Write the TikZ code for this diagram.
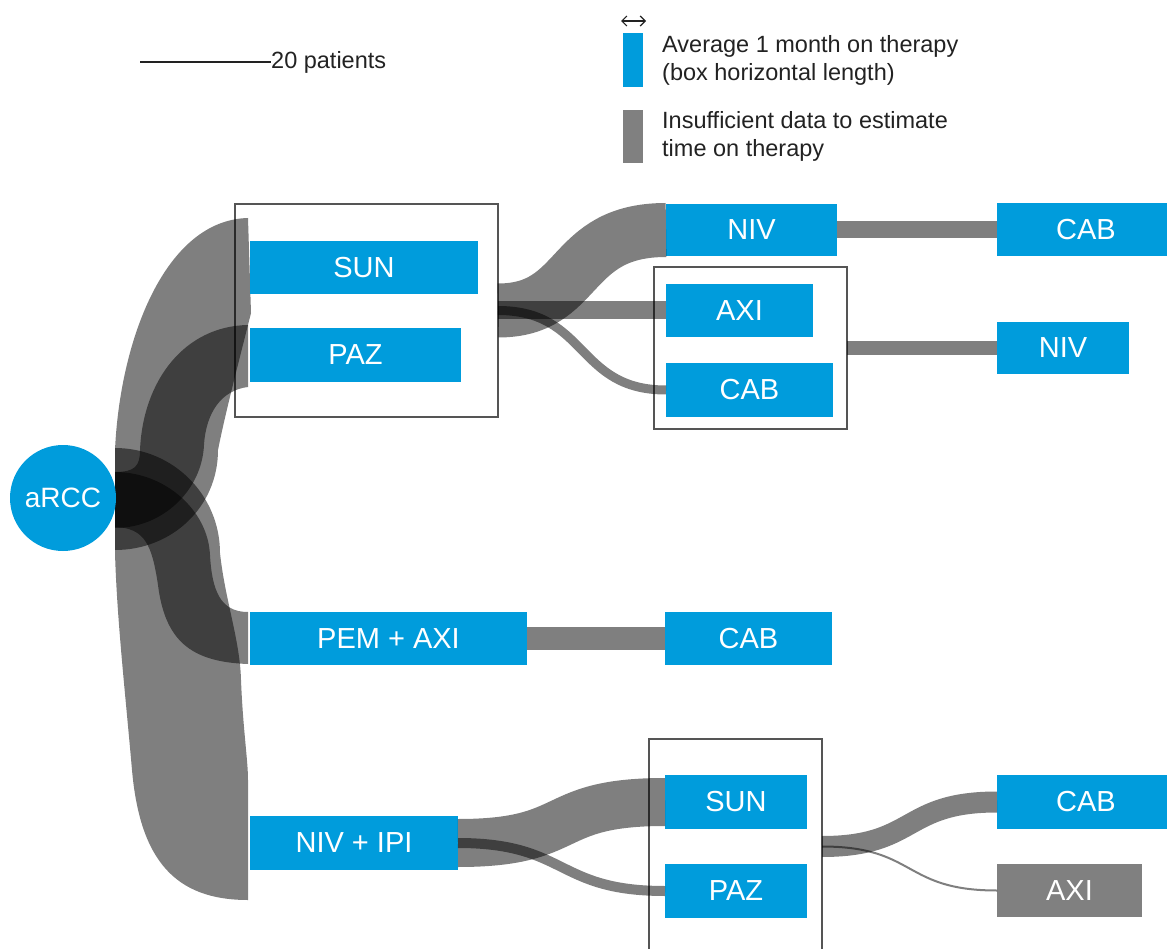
\documentclass[tikz,border=0pt]{standalone}
\usepackage{fontspec}
\setmainfont{Liberation Sans}
\usepackage{tikz}
\usetikzlibrary{arrows.meta,calc,positioning}
\definecolor{drug}{HTML}{009CDC}
\definecolor{nodata}{HTML}{808080}
\definecolor{ink}{HTML}{222222}
\definecolor{frame}{HTML}{555555}

\begin{document}
\begin{tikzpicture}[x=1pt,y=-1pt,
  drugbox/.style={fill=drug,text=white,inner sep=0pt,outer sep=0pt,minimum height=53pt,font=\fontsize{29}{34}\selectfont},
  nodatabox/.style={drugbox,fill=nodata},
  grpframe/.style={draw=frame,line width=1.5pt,inner sep=0pt,outer sep=0pt},
  ribbon/.style={fill=black,fill opacity=0.5},
  flow/.style={draw=black,draw opacity=0.5},
  legendtext/.style={text=ink,inner sep=0pt,align=left,font=\fontsize{23.5}{28}\selectfont}]
\useasboundingbox (0,0) rectangle (1167,949);
\clip (0,0) rectangle (1167,949);

% legend
\coordinate (bar0) at (140,62);
\node[legendtext,anchor=west] (barlabel) at (271,62) {20 patients};
\draw[ink,line width=1.6pt] (bar0) -- (barlabel.west);
\coordinate (arrl) at (621,21); \coordinate (arrr) at (646,21);
\draw[ink,line width=1.2pt,{Straight Barb[length=5pt]}-{Straight Barb[length=5pt]}] (arrl) -- (arrr);
\node[drugbox,minimum width=20pt,minimum height=54pt] (legdrug) at (633,60) {};
\node[nodatabox,minimum width=20pt,minimum height=53pt] (legnodata) at (633,136.5) {};
\node[legendtext,anchor=west] (legdrugtxt) at (662,60) {Average 1 month on therapy\\(box horizontal length)};
\node[legendtext,anchor=west] (legnodatatxt) at (662,136) {Insufficient data to estimate\\time on therapy};

% group frames
\node[grpframe,minimum width=263pt,minimum height=213pt] (grp1) at (366.5,310.5) {};
\node[grpframe,minimum width=193pt,minimum height=162pt] (grp2) at (750.5,348) {};
\node[grpframe,minimum width=173pt,minimum height=215pt] (grp3) at (735.5,846.5) {};

% ribbons out of aRCC
\fill[ribbon] (115,450) .. controls (120,340) and (165,220) .. (248,218) -- (251,313)
  .. controls (238,365) and (226,410) .. (218,450) .. controls (218,507) and (172,550) .. (115,550) -- cycle;
\fill[ribbon] (115,472) .. controls (135,472) and (140,466) .. (140,450) .. controls (143,380) and (185,326) .. (248,325) -- (248,387)
  .. controls (222,390) and (206,412) .. (204,445) .. controls (202,490) and (163,528) .. (115,528) -- cycle;
\fill[ribbon] (115,472) .. controls (165,472) and (208,510) .. (210,555) .. controls (212,590) and (220,612) .. (248,612) -- (248,664)
  .. controls (190,662) and (165,640) .. (158,585) .. controls (152,545) and (145,528) .. (115,527) -- cycle;
\fill[ribbon] (115,448) .. controls (173,448) and (220,495) .. (220,553) .. controls (225,600) and (240,640) .. (241,680)
  .. controls (243,730) and (248,760) .. (248,780) -- (248,900) .. controls (175,900) and (140,860) .. (132,770)
  .. controls (125,690) and (117,620) .. (115,553) -- cycle;

% therapy boxes
\node[drugbox,circle,minimum size=106pt,font=\fontsize{28}{34}\selectfont] (arcc) at (63,498) {aRCC};
\node[drugbox,minimum width=228pt] (sun1) at (364,267.5) {SUN};
\node[drugbox,minimum width=211pt,minimum height=54pt] (paz1) at (355.5,355) {PAZ};
\node[drugbox,minimum width=277pt] (pem) at (388.5,638.5) {PEM + AXI};
\node[drugbox,minimum width=208pt,minimum height=54pt] (nivipi) at (354,843) {NIV + IPI};
\node[drugbox,minimum width=171pt,minimum height=52pt] (niv2) at (751.5,230) {NIV};
\node[drugbox,minimum width=147pt] (axi2) at (739.5,310.5) {AXI};
\node[drugbox,minimum width=167pt,minimum height=54pt] (cab2) at (749.5,390) {CAB};
\node[drugbox,minimum width=167pt] (cabp) at (748.5,638.5) {CAB};
\node[drugbox,minimum width=178pt] (cab3) at (1086,230) {CAB};
\node[drugbox,minimum width=132pt,minimum height=52pt] (niv3) at (1063,348) {NIV};
\node[drugbox,minimum width=142pt,minimum height=54pt] (sunb) at (736,802) {SUN};
\node[drugbox,minimum width=142pt,minimum height=54pt] (pazb) at (736,891) {PAZ};
\node[drugbox,minimum width=178pt,minimum height=54pt] (cab4) at (1086,802) {CAB};
\node[nodatabox,minimum width=145pt] (axi4) at (1069.5,890.5) {AXI};

% flows between lines
\draw[flow,line width=54pt] (grp1.east) .. controls +(85,0) and +(-100,0) .. (niv2.west);
\draw[flow,line width=18pt] (grp1.east) -- (axi2.west);
\draw[flow,line width=9pt] (grp1.east) .. controls +(90,0) and +(-90,0) .. (cab2.west);
\draw[flow,line width=17pt] (niv2.east) -- (cab3.west);
\draw[flow,line width=14pt] (grp2.east) -- (niv3.west);
\draw[flow,line width=23pt] (pem.east) -- (cabp.west);
\draw[flow,line width=48pt] (nivipi.east) .. controls +(120,0) and +(-120,0) .. (sunb.west);
\draw[flow,line width=10pt] (nivipi.east) .. controls +(110,0) and +(-110,0) .. (pazb.west);
\draw[flow,line width=21pt] (grp3.east) .. controls +(95,0) and +(-95,0) .. (cab4.west);
\draw[flow,line width=2pt] (grp3.east) .. controls +(95,0) and +(-95,0) .. (axi4.west);
\end{tikzpicture}
\end{document}
